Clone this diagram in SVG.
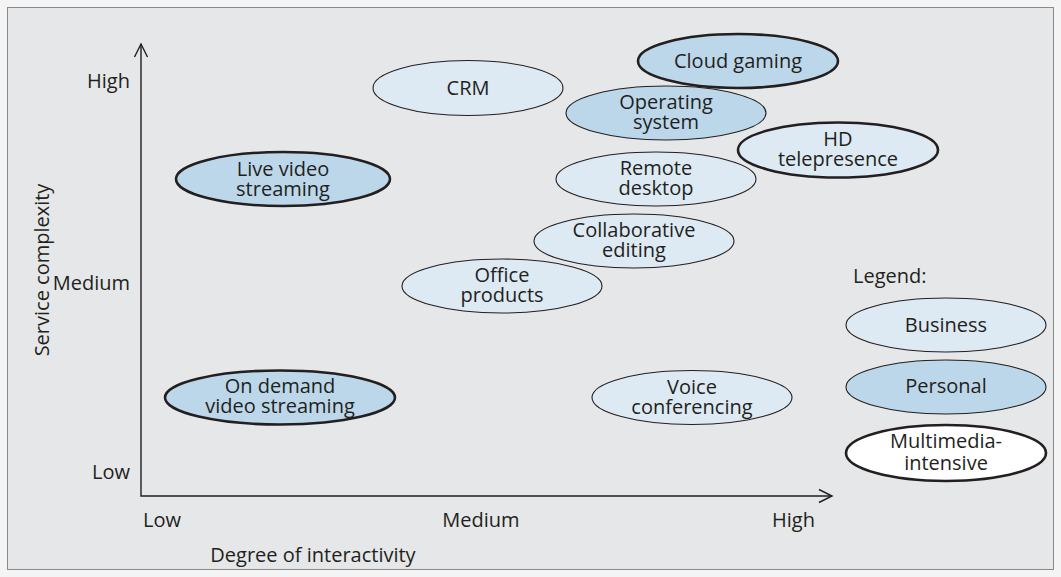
<svg xmlns="http://www.w3.org/2000/svg" width="1061" height="577" viewBox="0 0 1061 577">
<defs>
<style>
text{font-family:"Open Sans","Liberation Sans",sans-serif;font-size:20px;fill:#231f20}
.c{text-anchor:middle}
.r{text-anchor:end}
.bus{fill:#ddeaf4;stroke:#231f20;stroke-width:1.1}
.per{fill:#bcd7ea;stroke:#231f20;stroke-width:1.1}
.mm{stroke-width:2.6}
.wh{fill:#ffffff}
.ax{fill:none;stroke:#231f20;stroke-width:1.4}
</style>
</defs>
<rect x="0" y="0" width="1061" height="577" fill="#f4f4f4"/>
<rect x="7.5" y="7.5" width="1046" height="562" fill="#e6e7e8" stroke="#8a8a8a" stroke-width="1"/>
<g id="axes">
<path class="ax" d="M141,44 L141,496 L832,496"/>
<path class="ax" d="M134.5,57 L141,44 L147.5,57"/>
<path class="ax" d="M819,489.5 L832,496 L819,502.5"/>
<text class="r" x="130" y="88">High</text>
<text class="r" x="130" y="290">Medium</text>
<text class="r" x="130" y="479">Low</text>
<text x="143" y="527">Low</text>
<text class="c" x="481" y="527">Medium</text>
<text x="772" y="527">High</text>
<text class="c" x="313" y="562">Degree of interactivity</text>
<text class="c" transform="translate(49,270) rotate(-90)">Service complexity</text>
</g>
<g id="crm"><ellipse class="bus" cx="468" cy="88" rx="95" ry="27.5"/><text class="c" x="468" y="95">CRM</text></g>
<g id="cloud-gaming"><ellipse class="per mm" cx="738" cy="61" rx="100" ry="27"/><text class="c" x="738" y="68">Cloud gaming</text></g>
<g id="operating-system"><ellipse class="per" cx="666" cy="113" rx="100" ry="27"/><text class="c" x="666" y="109">Operating</text><text class="c" x="666" y="129">system</text></g>
<g id="hd-telepresence"><ellipse class="bus mm" cx="838" cy="150" rx="100" ry="27.5"/><text class="c" x="838" y="146">HD</text><text class="c" x="838" y="166">telepresence</text></g>
<g id="live-video"><ellipse class="per mm" cx="283" cy="179" rx="107" ry="27"/><text class="c" x="283" y="176">Live video</text><text class="c" x="283" y="196">streaming</text></g>
<g id="remote-desktop"><ellipse class="bus" cx="656" cy="179" rx="100" ry="27"/><text class="c" x="656" y="175">Remote</text><text class="c" x="656" y="195">desktop</text></g>
<g id="collaborative-editing"><ellipse class="bus" cx="634" cy="241" rx="100" ry="27"/><text class="c" x="634" y="237">Collaborative</text><text class="c" x="634" y="257">editing</text></g>
<g id="office-products"><ellipse class="bus" cx="502" cy="286" rx="100" ry="27"/><text class="c" x="502" y="282">Office</text><text class="c" x="502" y="302">products</text></g>
<g id="on-demand"><ellipse class="per mm" cx="280" cy="397.5" rx="115" ry="27"/><text class="c" x="280" y="393">On demand</text><text class="c" x="280" y="413">video streaming</text></g>
<g id="voice-conferencing"><ellipse class="bus" cx="692" cy="397.5" rx="100" ry="27"/><text class="c" x="692" y="394">Voice</text><text class="c" x="692" y="414">conferencing</text></g>
<g id="legend">
<text x="853" y="283">Legend:</text>
<g id="legend-business"><ellipse class="bus" cx="946" cy="325" rx="100" ry="27"/><text class="c" x="946" y="332">Business</text></g>
<g id="legend-personal"><ellipse class="per" cx="946" cy="387" rx="100" ry="27"/><text class="c" x="946" y="393">Personal</text></g>
<g id="legend-multimedia"><ellipse class="bus mm wh" cx="946" cy="453" rx="100" ry="28"/><text class="c" x="946" y="448">Multimedia-</text><text class="c" x="946" y="470">intensive</text></g>
</g>
</svg>
